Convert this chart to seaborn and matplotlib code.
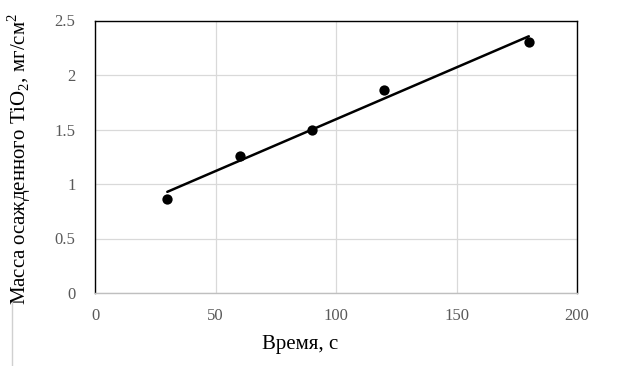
import matplotlib
matplotlib.use("Agg")
import matplotlib.pyplot as plt
import seaborn as sns
import pandas as pd
from matplotlib.lines import Line2D

time_s = [30, 60, 90, 120, 180]
mass = [0.86, 1.26, 1.50, 1.86, 2.30]
x_ticks = [0, 50, 100, 150, 200]
y_ticks = [0, 0.5, 1, 1.5, 2, 2.5]
y_tick_labels = ["0", "0.5", "1", "1.5", "2", "2.5"]

sns.set_style("white")
plt.rcParams['font.family'] = ['Liberation Serif', 'DejaVu Serif']
plt.rcParams['mathtext.fontset'] = 'custom'
plt.rcParams['mathtext.rm'] = 'Liberation Serif'

df = pd.DataFrame({"t": time_s, "m": mass})

fig = plt.figure(figsize=(6.2, 3.66), dpi=100)
ax = fig.add_axes([95/620, 1-293/366, (577-95)/620, (293-20.5)/366])

sns.regplot(data=df, x="t", y="m", ax=ax, ci=None, truncate=True,
            scatter_kws=dict(s=55, color="black", edgecolor="black", linewidths=0,
                             alpha=1, zorder=3),
            line_kws=dict(color="black", lw=1.8, zorder=2))

ax.set_xlim(0, 200)
ax.set_ylim(0, 2.5)
ax.set_xticks(x_ticks)
ax.set_yticks(y_ticks)
ax.set_yticklabels(y_tick_labels)
ax.grid(True, color="#d9d9d9", lw=0.9)
ax.set_axisbelow(True)
ax.tick_params(axis="both", length=0, labelsize=12, colors="#595959")
ax.tick_params(axis="x", pad=11)
ax.tick_params(axis="y", pad=14)
for s in ["left", "top", "right"]:
    ax.spines[s].set_color("black")
    ax.spines[s].set_linewidth(1.0)
ax.spines["bottom"].set_color("#bfbfbf")
ax.spines["bottom"].set_linewidth(1.0)

ax.set_xlabel("Время, с", fontsize=15, color="black")
ax.xaxis.set_label_coords((300-95)/482, -(335-293)/272.5)
ax.set_ylabel("Масса осажденного TiO$_2$, мг/см$^2$", fontsize=15, color="black")
ax.yaxis.set_label_coords(-(95-33)/482, (293-159)/272.5)

fig.add_artist(Line2D([12/620, 12/620], [0, 1-302/366], color="#d0d0d0", lw=1))

fig.savefig("out.png", dpi=100)
